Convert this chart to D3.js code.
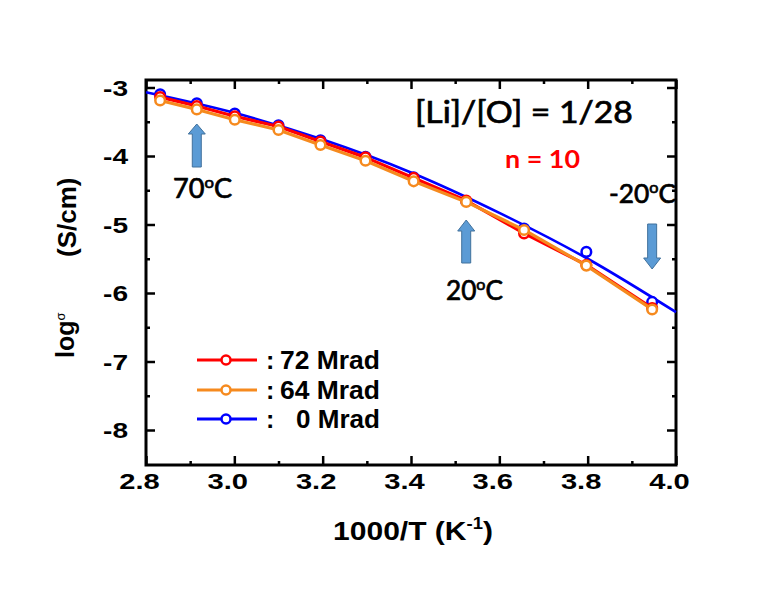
<!DOCTYPE html>
<html><head><meta charset="utf-8">
<script src="https://cdn.jsdelivr.net/npm/d3@7/dist/d3.min.js"></script>
<style>body{margin:0;background:#fff}svg{display:block}</style>
</head><body>
<svg id="c" width="757" height="590"></svg>
<script>
// ---------------- data ----------------
const xTicks = [2.8, 3.0, 3.2, 3.4, 3.6, 3.8, 4.0];
const xMinor = [2.9, 3.1, 3.3, 3.5, 3.7, 3.9];
const yTicks = [-3, -4, -5, -6, -7, -8];
const yMinor = [-3.5, -4.5, -5.5, -6.5, -7.5];
const invT   = [2.832, 2.915, 3.001, 3.100, 3.195, 3.297, 3.406, 3.525, 3.656, 3.797, 3.946];
const sig72  = [-3.14, -3.27, -3.42, -3.57, -3.79, -4.02, -4.32, -4.65, -5.13, -5.59, -6.22];
const sig64  = [-3.19, -3.32, -3.47, -3.62, -3.84, -4.07, -4.37, -4.67, -5.08, -5.60, -6.24];
const sig0   = [-3.10, -3.23, -3.38, -3.55, -3.77, -4.01, -4.31, -4.66, -5.06, -5.40, -6.13];
const fitX   = [2.8, 3.0, 3.2, 3.4, 3.6, 3.8, 4.0];
const fit0   = [-3.07, -3.37, -3.76, -4.24, -4.83, -5.50, -6.28];
const legendLabels = ["72 Mrad", "64 Mrad", "0 Mrad"];
const seriesColors = ["#FF0000", "#F68A1E", "#0000FF"];
const tempLabels = ["70", "20", "-20"];
const tempIndex = [1, 7, 10];

// ---------------- layout ----------------
const svg = d3.select("#c");
const L = 146, R = 676, T = 80, B = 465;
const x = d3.scaleLinear().domain([2.8, 4.0]).range([L, R]);
const y = d3.scaleLinear().domain([-3, -8]).range([87.5, 430]);
const ARIAL = "'Liberation Sans', Arial, sans-serif";
const CAL = "Lato, 'Open Sans', sans-serif";

function fit(t, w) { const len = t.node().getComputedTextLength(); return w / len; }
function placeText(x0, y0, w, build, anchor) {
  const g = svg.append("g");
  const t = g.append("text").attr("x", 0).attr("y", 0);
  build(t);
  const s = fit(t, w);
  if (anchor === "end") { t.attr("text-anchor", "end"); }
  if (anchor === "middle") { t.attr("text-anchor", "middle"); }
  g.attr("transform", `translate(${x0},${y0}) scale(${s},1)`);
  return t;
}

// ---------------- axes ----------------
function ax(gen, tr) {
  const g = svg.append("g").attr("transform", tr).call(gen);
  g.select(".domain").remove();
  g.selectAll(".tick line").attr("stroke", "#000").attr("stroke-width", 2.5);
  return g;
}
const gxB = ax(d3.axisBottom(x).tickValues(xTicks).tickSize(-9).tickFormat(d3.format(".1f")), `translate(0,${B})`);
ax(d3.axisBottom(x).tickValues(xMinor).tickSize(-4).tickFormat(""), `translate(0,${B})`);
ax(d3.axisTop(x).tickValues(xTicks).tickSize(-9).tickFormat(""), `translate(0,${T})`);
ax(d3.axisTop(x).tickValues(xMinor).tickSize(-4).tickFormat(""), `translate(0,${T})`);
const gyL = ax(d3.axisLeft(y).tickValues(yTicks).tickSize(-9).tickFormat(d => String(d)), `translate(${L},0)`);
ax(d3.axisLeft(y).tickValues(yMinor).tickSize(-4).tickFormat(""), `translate(${L},0)`);
ax(d3.axisRight(y).tickValues(yTicks).tickSize(-9).tickFormat(""), `translate(${R},0)`);
ax(d3.axisRight(y).tickValues(yMinor).tickSize(-4).tickFormat(""), `translate(${R},0)`);

// x tick labels
gxB.selectAll(".tick text").attr("fill", "#000").attr("font-family", ARIAL)
  .attr("font-weight", "bold").attr("font-size", "22px").attr("dy", 0).attr("y", 24);
{
  const s = 40.5 / gxB.select(".tick text").node().getComputedTextLength();
  gxB.selectAll(".tick text").attr("x", -7 / s).attr("transform", `scale(${s},1)`);
}
// y tick labels
gyL.selectAll(".tick text").attr("fill", "#000").attr("font-family", ARIAL)
  .attr("font-weight", "bold").attr("font-size", "22px").attr("dy", "0.36em").attr("text-anchor", "end");
{
  const s = 25 / gyL.select(".tick text").node().getComputedTextLength();
  gyL.selectAll(".tick text").attr("x", -18 / s).attr("transform", `scale(${s},1)`);
}

// frame
svg.append("rect").attr("x", L).attr("y", T).attr("width", R - L).attr("height", B - T)
  .attr("fill", "none").attr("stroke", "#000").attr("stroke-width", 3);

// ---------------- data marks ----------------
const fitLine = d3.line().x(d => x(d[0])).y(d => y(d[1])).curve(d3.curveMonotoneX);
const ptLine = d3.line().x(d => x(d[0])).y(d => y(d[1]));
const plot = svg.append("g");

plot.append("path").datum(fitX.map((v, i) => [v, fit0[i]])).attr("d", fitLine)
  .attr("fill", "none").attr("stroke", seriesColors[2]).attr("stroke-width", 2.6);
plot.append("g").selectAll("circle").data(invT.map((v, i) => [v, sig0[i]])).join("circle")
  .attr("cx", d => x(d[0])).attr("cy", d => y(d[1])).attr("r", 4.8)
  .attr("fill", "#fff").attr("stroke", seriesColors[2]).attr("stroke-width", 2.5);

[[sig72, seriesColors[0]], [sig64, seriesColors[1]]].forEach(([arr, col]) => {
  const pts = invT.map((v, i) => [v, arr[i]]);
  plot.append("path").datum(pts).attr("d", ptLine).attr("fill", "none")
    .attr("stroke", col).attr("stroke-width", 3.2).attr("stroke-linejoin", "round");
  plot.append("g").selectAll("circle").data(pts).join("circle")
    .attr("cx", d => x(d[0])).attr("cy", d => y(d[1])).attr("r", 4.8)
    .attr("fill", "#fff").attr("stroke", col).attr("stroke-width", 2.5);
});

// ---------------- arrows ----------------
function arrow(cx, yTail, yTip, headLen) {
  const dir = yTip < yTail ? -1 : 1;
  const hb = yTip - dir * headLen;
  const sw = 4.5, hw = 8.5;
  const p = [[cx - sw, yTail], [cx - sw, hb], [cx - hw, hb], [cx, yTip], [cx + hw, hb], [cx + sw, hb], [cx + sw, yTail]];
  svg.append("path").attr("d", "M" + p.map(q => q.join(",")).join("L") + "Z")
    .attr("fill", "#5B9BD5").attr("stroke", "#41719C").attr("stroke-width", 1);
}
arrow(x(invT[tempIndex[0]]), 167, 124, 10);
arrow(x(invT[tempIndex[1]]), 263, 220, 11);
arrow(x(invT[tempIndex[2]]), 224, 269, 11);

// temperature labels
function tempText(lbl) {
  return t => {
    t.attr("font-family", CAL).attr("font-size", "26px").attr("fill", "#000")
      .attr("stroke", "#000").attr("stroke-width", 0.7);
    t.append("tspan").text(lbl);
    t.append("tspan").text("o").attr("font-size", "16px").attr("dy", -10);
    t.append("tspan").text("C").attr("dy", 10);
  };
}
placeText(173, 198, 59, tempText(tempLabels[0]));
placeText(446, 300, 57, tempText(tempLabels[1]));
placeText(609, 203, 67, tempText(tempLabels[2]));

// annotation text
placeText(415, 123, 218, t => t.attr("font-family", CAL).attr("font-size", "30px").attr("fill", "#000")
  .attr("stroke", "#000").attr("stroke-width", 0.7).text("[Li]/[O] = 1/28"));
placeText(505, 168, 75, t => t.attr("font-family", CAL).attr("font-size", "24px").attr("font-weight", "bold").attr("fill", "#FF0000").text("n = 10"));

// ---------------- legend ----------------
const legY = [360, 390, 419];
legendLabels.forEach((lab, i) => {
  svg.append("line").attr("x1", 197).attr("x2", 257).attr("y1", legY[i]).attr("y2", legY[i])
    .attr("stroke", seriesColors[i]).attr("stroke-width", 3);
  svg.append("circle").attr("cx", 226).attr("cy", legY[i]).attr("r", 4.5)
    .attr("fill", "#fff").attr("stroke", seriesColors[i]).attr("stroke-width", 2.5);
  svg.append("text").attr("x", 266).attr("y", legY[i] + 8.5).attr("font-family", ARIAL)
    .attr("font-weight", "bold").attr("font-size", "25px").attr("fill", "#000").text(":");
  const w = i === 2 ? 84 : 100;
  placeText(380, legY[i] + 8.5, w, tt => tt.attr("font-family", ARIAL).attr("font-weight", "bold")
    .attr("font-size", "25px").attr("fill", "#000").text(lab), "end");
});

// ---------------- axis titles ----------------
placeText(413, 540, 160, t => {
  t.attr("font-family", ARIAL).attr("font-weight", "bold").attr("font-size", "26px").attr("fill", "#000");
  t.append("tspan").text("1000/T (K");
  t.append("tspan").text("-1").attr("font-size", "16px").attr("dy", -11);
  t.append("tspan").text(")").attr("dy", 11);
}, "middle");

svg.append("text").attr("transform", "translate(74,358) rotate(-90)")
  .attr("font-family", ARIAL).attr("font-weight", "bold").attr("font-size", "25px").attr("fill", "#000")
  .call(t => {
    t.append("tspan").text("log");
    t.append("tspan").text("σ").attr("font-size", "13px").attr("font-weight", "normal").attr("dy", -9);
  });
svg.append("text").attr("transform", "translate(76,257) rotate(-90)")
  .attr("font-family", ARIAL).attr("font-weight", "bold").attr("font-size", "26px").attr("fill", "#000")
  .text("(S/cm)");
</script>
</body></html>
